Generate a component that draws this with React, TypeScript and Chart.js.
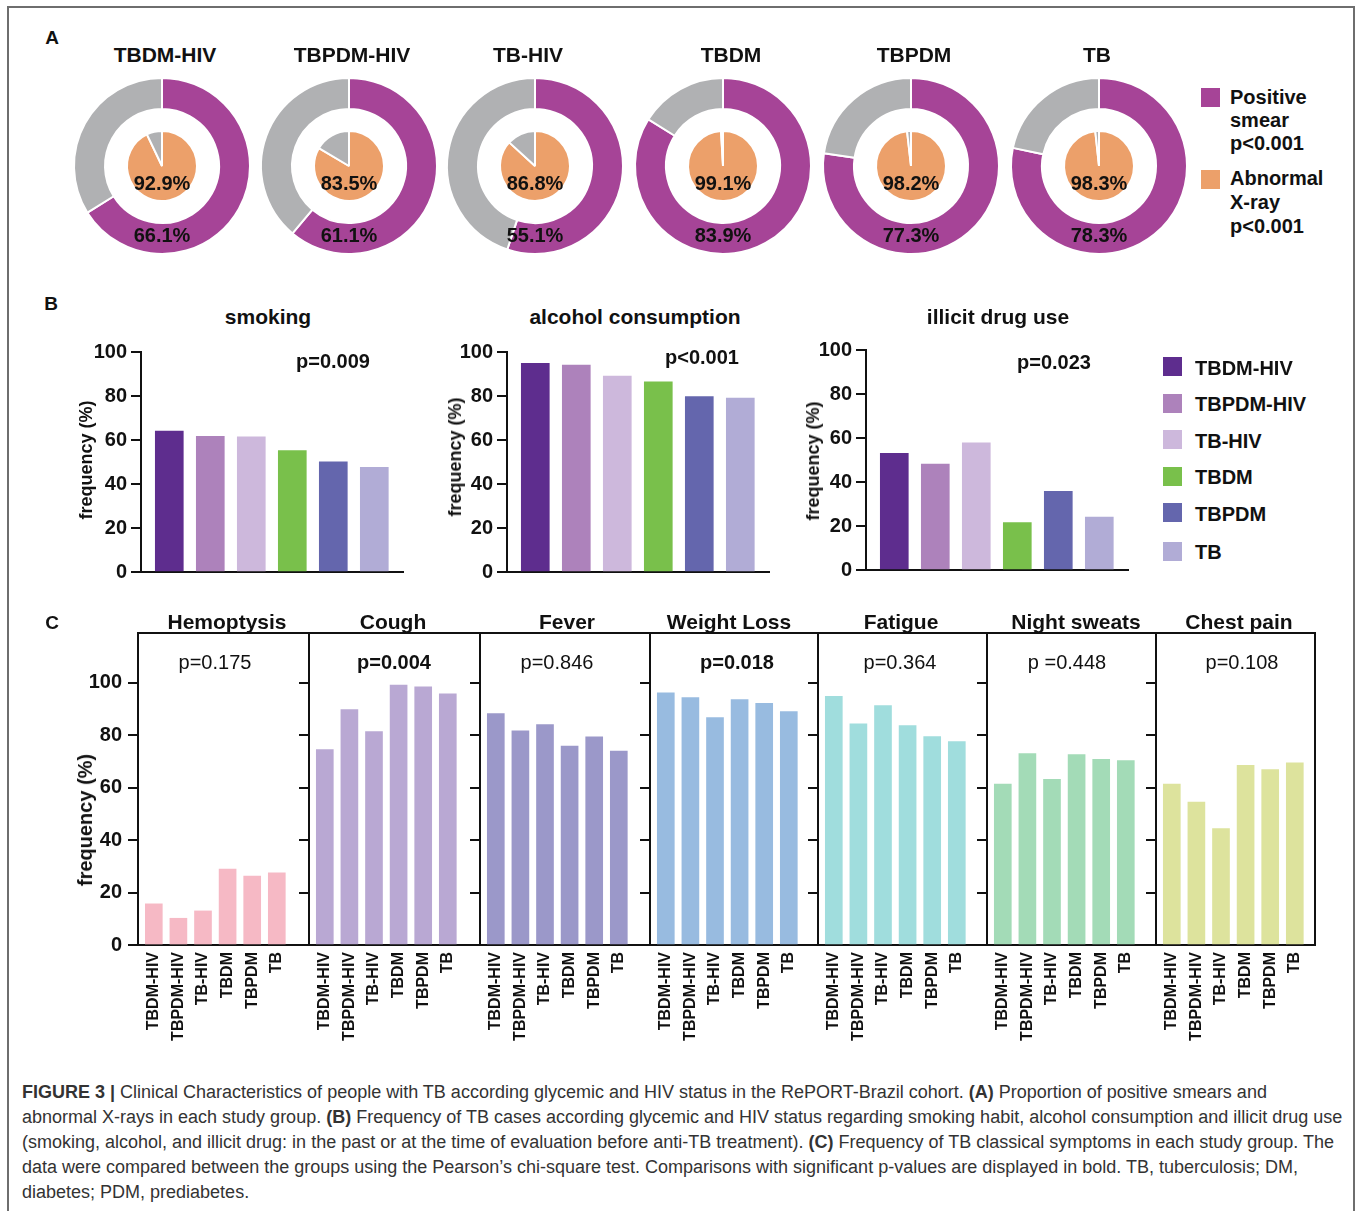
import React, { useEffect, useRef } from "react";
import { Chart, registerables } from "chart.js";

Chart.register(...registerables);

const FONT = '"Liberation Sans", Arial, Helvetica, sans-serif';
Chart.defaults.font.family = FONT;
Chart.defaults.color = "#111";

// ---------- shared ----------
const groups = ["TBDM-HIV", "TBPDM-HIV", "TB-HIV", "TBDM", "TBPDM", "TB"];
const groupColors = ["#5e2d8e", "#ad82bb", "#cdb8dc", "#79c04b", "#6466ad", "#b1acd6"];

// ---------- panel A ----------
const smearPositive = [66.1, 61.1, 55.1, 83.9, 77.3, 78.3];
const xrayAbnormal = [92.9, 83.5, 86.8, 99.1, 98.2, 98.3];
const PURPLE = "#a64497";
const GRAY = "#b0b1b3";
const ORANGE = "#eca06a";

// ---------- panel B ----------
const habitTitles = ["smoking", "alcohol consumption", "illicit drug use"];
const habitP = ["p=0.009", "p<0.001", "p=0.023"];
const smoking = [64.0, 61.7, 61.4, 55.2, 50.1, 47.6];
const alcohol = [94.9, 94.0, 89.1, 86.4, 79.7, 79.0];
const illicitDrug = [53.0, 48.2, 57.8, 21.5, 35.8, 24.0];
const yTicksB = [0, 20, 40, 60, 80, 100];

// ---------- panel C ----------
const symptoms = ["Hemoptysis", "Cough", "Fever", "Weight Loss", "Fatigue", "Night sweats", "Chest pain"];
const symptomP = ["p=0.175", "p=0.004", "p=0.846", "p=0.018", "p=0.364", "p =0.448", "p=0.108"];
const symptomPBold = [false, true, false, true, false, false, false];
const hemoptysis = [15.7, 10.2, 13.0, 29.0, 26.3, 27.5];
const cough = [74.5, 89.8, 81.4, 99.1, 98.5, 95.8];
const fever = [88.3, 81.7, 84.1, 75.9, 79.4, 74.0];
const weightLoss = [96.2, 94.4, 86.7, 93.6, 92.2, 89.0];
const fatigue = [94.8, 84.4, 91.3, 83.7, 79.5, 77.6];
const nightSweats = [61.4, 73.0, 63.2, 72.6, 70.8, 70.3];
const chestPain = [61.4, 54.5, 44.4, 68.5, 66.9, 69.5];
const symptomValues = [hemoptysis, cough, fever, weightLoss, fatigue, nightSweats, chestPain];
const symptomColors = ["#f6b9c5", "#b9a8d3", "#9b98c9", "#98bbe0", "#a0dddd", "#a3dbb7", "#dde39d"];
const yTicksC = [0, 20, 40, 60, 80, 100];

// ---------- layout ----------
const donutCenters = [162, 349, 535, 723, 911, 1099];
const donutTitleX = [165, 352, 528, 731, 914, 1097];
const habitAxisX = [141, 507, 866];
const habitTop100 = [352, 352, 350];
const habitTitleX = [268, 635, 998];
const habitPX = [333, 702, 1054];
const habitPY = [361, 357, 362];
const habitYTitle = [[86, 460], [455, 457], [813, 461]];
const cBounds = [138, 309, 480, 650, 818, 987, 1156, 1315];
const cTitleX = [227, 393, 567, 729, 901, 1076, 1239];
const cPX = [215, 394, 557, 737, 900, 1067, 1242];

type TxtProps = {
  x: number;
  y: number;
  size: number;
  bold?: boolean;
  align?: "center" | "left";
  rotate?: boolean;
  color?: string;
  children: React.ReactNode;
};

function Txt({ x, y, size, bold = true, align = "center", rotate = false, color = "#111", children }: TxtProps) {
  const tx = align === "center" ? "-50%" : "0";
  return (
    <div
      style={{
        position: "absolute",
        left: x,
        top: y,
        fontFamily: FONT,
        fontSize: size,
        fontWeight: bold ? 700 : 400,
        lineHeight: 1,
        whiteSpace: "nowrap",
        color,
        transform: `translate(${tx}, -50%)` + (rotate ? " rotate(-90deg)" : ""),
      }}
    >
      {children}
    </div>
  );
}

function ChartCanvas({ left, top, width, height, make }: { left: number; top: number; width: number; height: number; make: () => any }) {
  const ref = useRef<HTMLCanvasElement>(null);
  useEffect(() => {
    const c = new Chart(ref.current as HTMLCanvasElement, make());
    return () => c.destroy();
  }, []);
  return <canvas ref={ref} width={width} height={height} style={{ position: "absolute", left, top, width, height }} />;
}

function donutConfig(i: number) {
  return () => ({
    type: "doughnut",
    data: {
      labels: ["a", "b"],
      datasets: [
        { data: [smearPositive[i], 100 - smearPositive[i]], backgroundColor: [PURPLE, GRAY], borderColor: "#fff", borderWidth: 2, weight: 31 },
        { data: [1], backgroundColor: ["rgba(0,0,0,0)"], borderWidth: 0, weight: 22 },
        { data: [xrayAbnormal[i], 100 - xrayAbnormal[i]], backgroundColor: [ORANGE, GRAY], borderColor: "#fff", borderWidth: 2, weight: 35 },
      ],
    },
    options: {
      animation: false,
      responsive: false,
      events: [],
      radius: 88,
      cutout: 0,
      hoverOffset: 0,
      layout: { padding: 0 },
      plugins: { legend: { display: false }, tooltip: { enabled: false } },
    },
    plugins: [
      {
        id: "donutLabels",
        afterDraw(chart: any) {
          const { ctx, chartArea } = chart;
          const cx = (chartArea.left + chartArea.right) / 2;
          const cy = (chartArea.top + chartArea.bottom) / 2;
          ctx.save();
          ctx.font = `bold 20px ${FONT}`;
          ctx.fillStyle = "#111";
          ctx.textAlign = "center";
          ctx.textBaseline = "alphabetic";
          ctx.fillText(`${xrayAbnormal[i].toFixed(1)}%`, cx, cy + 16.5 + 7.2);
          ctx.fillText(`${smearPositive[i].toFixed(1)}%`, cx, cy + 69 + 7.2);
          ctx.restore();
        },
      },
    ],
  });
}

function habitConfig(values: number[]) {
  return () => ({
    type: "bar",
    data: {
      datasets: [
        { data: values.map((v, i) => ({ x: i, y: v })), backgroundColor: groupColors, barThickness: 28, borderWidth: 0 },
      ],
    },
    options: {
      animation: false,
      responsive: false,
      events: [],
      layout: { padding: { top: 24, right: 5, bottom: 24, left: 0 } },
      plugins: { legend: { display: false }, tooltip: { enabled: false } },
      scales: {
        x: {
          type: "linear",
          offset: false,
          min: -0.69,
          max: 5.7,
          grid: { display: false, drawTicks: false },
          ticks: { display: false },
          border: { display: true, color: "#111", width: 2 },
          afterFit: (s: any) => {
            s.height = 0;
          },
        },
        y: {
          type: "linear",
          min: 0,
          max: 100,
          afterBuildTicks: (s: any) => {
            s.ticks = yTicksB.map((v) => ({ value: v }));
          },
          grid: { display: true, drawOnChartArea: false, drawTicks: true, tickLength: 10, color: "#111", lineWidth: 2 },
          border: { display: true, color: "#111", width: 2 },
          ticks: { padding: 4, color: "#111", font: { size: 20, weight: "bold", family: FONT } },
          afterFit: (s: any) => {
            s.width = 60;
          },
        },
      },
    },
  });
}

const C_STEP = 24.6;
const C_FIRST = 15.8;

function symptomConfig(idx: number, yW: number, panelW: number) {
  const first = idx === 0;
  const last = idx === symptoms.length - 1;
  const xmin = -C_FIRST / C_STEP;
  return () => ({
    type: "bar",
    data: {
      datasets: [
        {
          data: symptomValues[idx].map((v, i) => ({ x: i, y: v })),
          backgroundColor: symptomColors[idx],
          barThickness: 17,
          borderWidth: 0,
        },
      ],
    },
    options: {
      animation: false,
      responsive: false,
      events: [],
      layout: { padding: { top: 24, right: 8, bottom: 4, left: 0 } },
      plugins: { legend: { display: false }, tooltip: { enabled: false } },
      scales: {
        x: {
          type: "linear",
          offset: false,
          min: xmin,
          max: xmin + panelW / C_STEP,
          afterBuildTicks: (s: any) => {
            s.ticks = groups.map((_, i) => ({ value: i }));
          },
          grid: { display: false, drawTicks: false },
          border: { display: true, color: "#111", width: 2 },
          ticks: {
            autoSkip: false,
            minRotation: 90,
            maxRotation: 90,
            padding: 7,
            color: "#111",
            font: { size: 16, weight: "bold", family: FONT },
            callback: (v: any) => groups[v] ?? "",
          },
          afterFit: (s: any) => {
            s.height = 105;
          },
        },
        y: {
          type: "linear",
          min: 0,
          max: 119,
          afterBuildTicks: (s: any) => {
            s.ticks = yTicksC.map((v) => ({ value: v }));
          },
          grid: { display: true, drawOnChartArea: false, drawTicks: true, tickLength: 10, color: "#111", lineWidth: 2 },
          border: { display: true, color: "#111", width: 2 },
          ticks: { display: first, padding: 6, color: "#111", font: { size: 20, weight: "bold", family: FONT } },
          afterFit: (s: any) => {
            s.width = yW;
          },
        },
      },
    },
    plugins: [
      {
        id: "frame",
        afterDraw(chart: any) {
          const { ctx, chartArea } = chart;
          ctx.save();
          ctx.strokeStyle = "#111";
          ctx.lineWidth = 2;
          ctx.beginPath();
          ctx.moveTo(chartArea.left - 1, chartArea.top);
          ctx.lineTo(chartArea.right + 1, chartArea.top);
          if (last) {
            ctx.moveTo(chartArea.right, chartArea.top);
            ctx.lineTo(chartArea.right, chartArea.bottom);
          }
          ctx.stroke();
          ctx.restore();
        },
      },
    ],
  });
}

const habitData = [smoking, alcohol, illicitDrug];

export default function App() {
  return (
    <div style={{ position: "absolute", left: 0, top: 0, width: 1357, height: 1211, overflow: "hidden", background: "#fff", fontFamily: FONT }}>
      <div
        style={{
          position: "absolute",
          left: 7,
          top: 6,
          width: 1344,
          height: 1230,
          borderLeft: "2px solid #6e6e6e",
          borderTop: "2px solid #6e6e6e",
          borderRight: "2px solid #6e6e6e",
        }}
      />

      {/* Panel A */}
      <Txt x={52} y={37} size={19}>A</Txt>
      {donutCenters.map((cx, i) => (
        <ChartCanvas key={"d" + i} left={cx - 95} top={71} width={190} height={190} make={donutConfig(i)} />
      ))}
      {groups.map((g, i) => (
        <Txt key={"dt" + i} x={donutTitleX[i]} y={54} size={21}>
          {g}
        </Txt>
      ))}
      <div style={{ position: "absolute", left: 1201, top: 88, width: 19, height: 19, background: PURPLE }} />
      <div style={{ position: "absolute", left: 1201, top: 170, width: 19, height: 19, background: ORANGE }} />
      <Txt x={1230} y={97} size={20} align="left">Positive</Txt>
      <Txt x={1230} y={120} size={20} align="left">smear</Txt>
      <Txt x={1230} y={143} size={20} align="left">p&lt;0.001</Txt>
      <Txt x={1230} y={178} size={20} align="left">Abnormal</Txt>
      <Txt x={1230} y={202} size={20} align="left">X-ray</Txt>
      <Txt x={1230} y={226} size={20} align="left">p&lt;0.001</Txt>

      {/* Panel B */}
      <Txt x={51} y={303} size={19}>B</Txt>
      {habitData.map((vals, k) => (
        <ChartCanvas key={"h" + k} left={habitAxisX[k] - 60} top={habitTop100[k] - 24} width={327} height={268} make={habitConfig(vals)} />
      ))}
      {habitTitles.map((t, k) => (
        <Txt key={"ht" + k} x={habitTitleX[k]} y={316} size={21}>
          {t}
        </Txt>
      ))}
      {habitP.map((t, k) => (
        <Txt key={"hp" + k} x={habitPX[k]} y={habitPY[k]} size={20}>
          {t}
        </Txt>
      ))}
      {habitYTitle.map((p, k) => (
        <Txt key={"hy" + k} x={p[0]} y={p[1]} size={18} rotate>
          frequency (%)
        </Txt>
      ))}
      {groups.map((g, i) => {
        const sq = [366.5, 403, 439.5, 476, 512.5, 551][i];
        return (
          <React.Fragment key={"lg" + i}>
            <div style={{ position: "absolute", left: 1163, top: sq - 9.5, width: 19, height: 19, background: groupColors[i] }} />
            <Txt x={1195} y={sq + 1} size={20} align="left">
              {g}
            </Txt>
          </React.Fragment>
        );
      })}

      {/* Panel C */}
      <Txt x={52} y={622} size={19}>C</Txt>
      {symptoms.map((s, i) => {
        const yW = i === 0 ? 58 : 12;
        const panelW = cBounds[i + 1] - cBounds[i];
        return (
          <ChartCanvas
            key={"c" + i}
            left={cBounds[i] - yW}
            top={609}
            width={yW + panelW + 8}
            height={445}
            make={symptomConfig(i, yW, panelW)}
          />
        );
      })}
      {symptoms.map((s, i) => (
        <Txt key={"ct" + i} x={cTitleX[i]} y={621} size={21}>
          {s}
        </Txt>
      ))}
      {symptomP.map((p, i) => (
        <Txt key={"cp" + i} x={cPX[i]} y={661.5} size={20} bold={symptomPBold[i]}>
          {p}
        </Txt>
      ))}
      <Txt x={85} y={820} size={20} rotate>
        frequency (%)
      </Txt>

      {/* Caption */}
      <div style={{ position: "absolute", left: 22, top: 1079.5, fontFamily: FONT, fontSize: 18, lineHeight: "25px", color: "#333", whiteSpace: "nowrap" }}>
        <div>
          <b>FIGURE 3 |</b> Clinical Characteristics of people with TB according glycemic and HIV status in the RePORT-Brazil cohort. <b>(A)</b> Proportion of positive smears and
        </div>
        <div>
          abnormal X-rays in each study group. <b>(B)</b> Frequency of TB cases according glycemic and HIV status regarding smoking habit, alcohol consumption and illicit drug use
        </div>
        <div>
          (smoking, alcohol, and illicit drug: in the past or at the time of evaluation before anti-TB treatment). <b>(C)</b> Frequency of TB classical symptoms in each study group. The
        </div>
        <div>
          data were compared between the groups using the Pearson’s chi-square test. Comparisons with significant p-values are displayed in bold. TB, tuberculosis; DM,
        </div>
        <div>diabetes; PDM, prediabetes.</div>
      </div>
    </div>
  );
}
